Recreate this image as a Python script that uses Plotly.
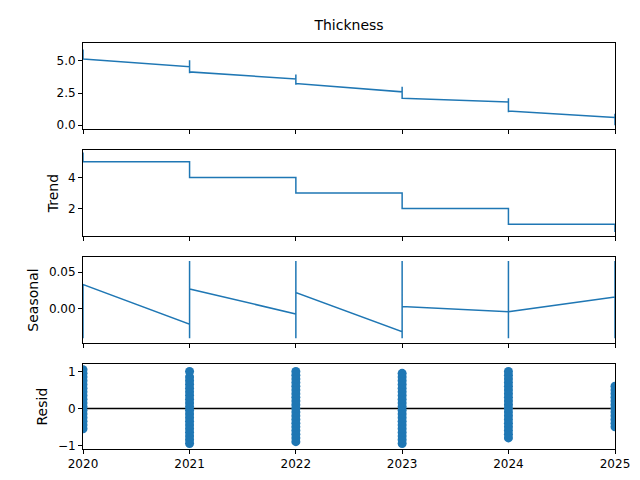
import plotly.graph_objects as go

years = ["2020-01-01", "2021-01-01", "2022-01-01", "2023-01-01", "2024-01-01", "2025-01-01"]

# observed series, read at the year boundaries (jumps drawn as repeated dates)
obs_x = [0, 0, 1, 1, 1, 1, 2, 2, 2, 2, 3, 3, 3, 3, 4, 4, 4, 4, 5, 5, 5]
obs_y = [5.9, 5.15, 4.55, 5.05, 4.05, 4.15, 3.6, 3.95, 3.15, 3.25, 2.6, 3.0, 2.05, 2.1,
         1.8, 2.1, 1.0, 1.1, 0.6, 0.9, 0.0]

trend_x = [0, 0, 1, 1, 2, 2, 3, 3, 4, 4, 5, 5]
trend_y = [5.6, 5.0, 5.0, 4.0, 4.0, 3.0, 3.0, 2.0, 2.0, 1.0, 1.0, 0.5]

seas_x = [0, 0, 1, 1, 1, 1, 2, 2, 2, 2, 3, 3, 3, 3, 4, 4, 4, 4, 5, 5, 5]
seas_y = [-0.04, 0.033, -0.021, 0.065, -0.04, 0.027, -0.007, 0.065, -0.04, 0.022,
          -0.031, 0.065, -0.04, 0.003, -0.004, 0.065, -0.04, -0.004, 0.016, 0.065, -0.04]

resid = {
    0: [-0.55, -0.45, -0.35, -0.25, -0.15, -0.05, 0.05, 0.15, 0.25, 0.35, 0.45, 0.55, 0.65, 0.75, 0.85, 0.95, 1.05],
    1: [-0.95, -0.85, -0.75, -0.65, -0.55, -0.45, -0.35, -0.25, -0.15, -0.05, 0.05, 0.15, 0.25, 0.35, 0.45, 0.55, 0.65, 0.75, 0.85, 1.0],
    2: [-0.9, -0.8, -0.7, -0.6, -0.5, -0.4, -0.3, -0.2, -0.1, 0.0, 0.1, 0.2, 0.3, 0.4, 0.5, 0.6, 0.7, 0.8, 0.9, 1.0],
    3: [-0.95, -0.85, -0.75, -0.65, -0.55, -0.45, -0.35, -0.25, -0.15, -0.05, 0.05, 0.15, 0.25, 0.35, 0.45, 0.55, 0.65, 0.75, 0.85, 0.95],
    4: [-0.8, -0.7, -0.6, -0.5, -0.4, -0.3, -0.2, -0.1, 0.0, 0.1, 0.2, 0.3, 0.4, 0.5, 0.6, 0.7, 0.8, 0.9, 1.0],
    5: [-0.5, -0.4, -0.3, -0.2, -0.1, 0.0, 0.1, 0.2, 0.3, 0.4, 0.5, 0.6],
}

blue = "#1f77b4"
fig = go.Figure()
fig.add_trace(go.Scatter(x=[years[i] for i in obs_x], y=obs_y, mode="lines",
                         line=dict(color=blue, width=1.5), xaxis="x", yaxis="y"))
fig.add_trace(go.Scatter(x=[years[i] for i in trend_x], y=trend_y, mode="lines",
                         line=dict(color=blue, width=1.5), xaxis="x2", yaxis="y2"))
fig.add_trace(go.Scatter(x=[years[i] for i in seas_x], y=seas_y, mode="lines",
                         line=dict(color=blue, width=1.5), xaxis="x3", yaxis="y3"))
fig.add_trace(go.Scatter(x=[years[0], years[5]], y=[0, 0], mode="lines",
                         line=dict(color="black", width=1.5), xaxis="x4", yaxis="y4"))
rx, ry = [], []
for k, vals in resid.items():
    rx += [years[k]] * len(vals)
    ry += vals
fig.add_trace(go.Scatter(x=rx, y=ry, mode="markers", marker=dict(color=blue, size=9),
                         xaxis="x4", yaxis="y4"))

ax = dict(showline=True, mirror=True, linecolor="black", linewidth=1, showgrid=False,
          zeroline=False, ticks="outside", tickcolor="black", ticklen=4,
          range=[years[0], years[5]], type="date", automargin=False)
domains = [[0.788, 1.0], [0.525, 0.736], [0.261, 0.473], [0.0, 0.209]]
yax = dict(showline=True, mirror=True, linecolor="black", linewidth=1, showgrid=False,
           zeroline=False, ticks="outside", tickcolor="black", ticklen=4, automargin=False)
font = dict(family="DejaVu Sans", size=12, color="black")

fig.update_layout(
    width=640, height=480, showlegend=False, plot_bgcolor="white", paper_bgcolor="white",
    margin=dict(l=75, r=33, t=35, b=39, autoexpand=False), font=font,
    title=dict(text="Thickness", x=0.5, xanchor="center", xref="paper", y=0.955, yanchor="bottom",
               font=dict(size=14), automargin=False),
    xaxis=dict(ax, anchor="y", showticklabels=False, matches="x4"),
    xaxis2=dict(ax, anchor="y2", showticklabels=False, matches="x4"),
    xaxis3=dict(ax, anchor="y3", showticklabels=False, matches="x4"),
    xaxis4=dict(ax, anchor="y4", tickvals=years, ticktext=["2020", "2021", "2022", "2023", "2024", "2025"]),
    yaxis=dict(yax, domain=domains[0], range=[-0.3, 6.4], tickvals=[0, 2.5, 5], ticktext=["0.0", "2.5", "5.0"]),
    yaxis2=dict(yax, domain=domains[1], range=[0.25, 5.75], tickvals=[2, 4], title=dict(text="Trend", standoff=6)),
    yaxis3=dict(yax, domain=domains[2], range=[-0.0465, 0.0705], tickvals=[0, 0.05], ticktext=["0.00", "0.05"],
                title=dict(text="Seasonal", standoff=6)),
    yaxis4=dict(yax, domain=domains[3], range=[-1.1, 1.2], tickvals=[-1, 0, 1], title=dict(text="Resid", standoff=6)),
)
fig.write_html("out.html")
